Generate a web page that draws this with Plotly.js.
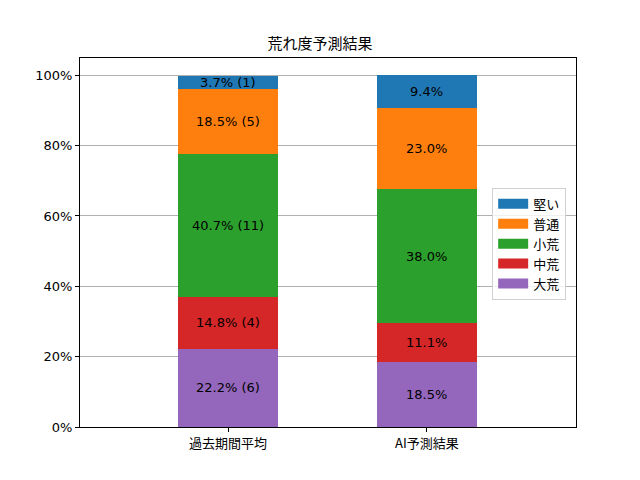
<!DOCTYPE html>
<html>
<head>
<meta charset="utf-8">
<script src="https://cdn.plot.ly/plotly-3.0.1.min.js"></script>
<style>
  html, body { margin: 0; padding: 0; background: #fff; }
  #chart { width: 640px; height: 480px; }
</style>
</head>
<body>
<div id="chart"></div>
<script>
// Data
const categories = ['過去期間平均', 'AI予測結果'];
const levels = ['大荒', '中荒', '小荒', '普通', '堅い'];
const colors = ['#9467bd', '#d62728', '#2ca02c', '#ff7f0e', '#1f77b4'];
const pastPct = [22.2, 14.8, 40.7, 18.5, 3.7];
const pastCount = [6, 4, 11, 5, 1];
const aiPct = [18.5, 11.1, 38.0, 23.0, 9.4];

const FONT = 'DejaVu Sans, Noto Sans CJK JP, sans-serif';
const JP = 'Noto Sans CJK JP, sans-serif';

const traces = levels.map((name, i) => ({
    type: 'bar',
    name: name,
    legendgroup: name,
    showlegend: false,
    x: categories,
    y: [pastPct[i], aiPct[i]],
    width: 0.5,
    marker: { color: colors[i], line: { width: 0 } },
    hoverinfo: 'skip'
}));

// legend entries with wide flat swatches, like matplotlib's patches
levels.forEach((name, i) => {
    traces.push({
        type: 'scatter',
        mode: 'lines',
        name: name,
        legendgroup: name,
        x: [null],
        y: [null],
        line: { color: colors[i], width: 10 },
        hoverinfo: 'skip'
    });
});

// Segment labels, centred in each stacked block
const annotations = [];
let basePast = 0, baseAi = 0;
levels.forEach((name, i) => {
    annotations.push({
        x: categories[0], y: basePast + pastPct[i] / 2,
        text: pastPct[i].toFixed(1) + '% (' + pastCount[i] + ')',
        showarrow: false, font: { size: 13, color: '#000', family: FONT }
    });
    annotations.push({
        x: categories[1], y: baseAi + aiPct[i] / 2,
        text: aiPct[i].toFixed(1) + '%',
        showarrow: false, font: { size: 13, color: '#000', family: FONT }
    });
    basePast += pastPct[i];
    baseAi += aiPct[i];
});

const layout = {
    width: 640,
    height: 480,
    barmode: 'stack',
    paper_bgcolor: '#fff',
    plot_bgcolor: '#fff',
    font: { family: FONT, size: 13, color: '#000' },
    title: {
        text: '荒れ度予測結果',
        font: { size: 15, color: '#000', family: JP },
        x: 0.5, xanchor: 'center', y: 0.908, yanchor: 'middle'
    },
    margin: { l: 80, r: 64, t: 58, b: 53 },
    xaxis: {
        type: 'category',
        range: [-0.745, 1.75],
        showline: true, linecolor: '#000', linewidth: 1, mirror: true,
        ticks: 'outside', ticklen: 4, tickcolor: '#000',
        tickfont: { size: 13, family: JP },
        showgrid: false, zeroline: false
    },
    yaxis: {
        range: [0, 104.9],
        tickvals: [0, 20, 40, 60, 80, 100],
        ticktext: ['0%', '20%', '40%', '60%', '80%', '100%'],
        showline: true, linecolor: '#000', linewidth: 1, mirror: true,
        ticks: 'outside', ticklen: 4, tickcolor: '#000',
        showgrid: true, gridcolor: '#b0b0b0', gridwidth: 1,
        zeroline: false
    },
    legend: {
        x: 0.831, y: 0.648, xanchor: 'left', yanchor: 'top',
        traceorder: 'reversed',
        bgcolor: 'rgba(255,255,255,0.8)',
        bordercolor: '#d0d0d0', borderwidth: 1,
        font: { size: 13, family: JP },
        itemwidth: 30,
        tracegroupgap: 0
    },
    annotations: annotations,
    showlegend: true
};

Plotly.newPlot('chart', traces, layout, { displayModeBar: false, staticPlot: true });
</script>
</body>
</html>
